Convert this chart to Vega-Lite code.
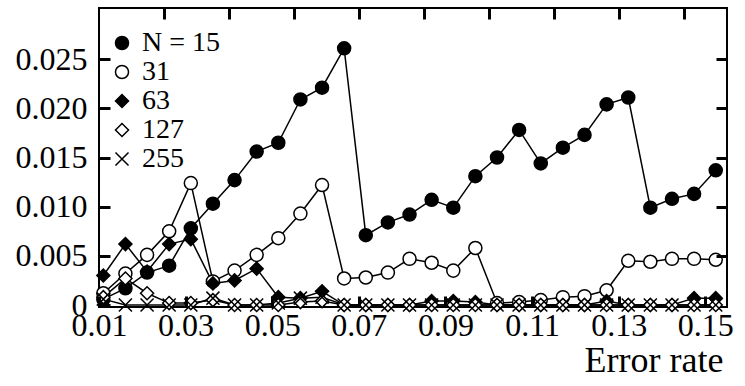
{
  "$schema": "https://vega.github.io/schema/vega-lite/v6.json",
  "autosize": "none",
  "width": 628,
  "height": 299,
  "padding": {"left": 99, "top": 8, "right": 18, "bottom": 79},
  "background": "white",
  "config": {
    "view": {"stroke": "black", "strokeWidth": 2},
    "font": "Liberation Serif, Times New Roman, DejaVu Serif, serif",
    "axis": {
      "labelFont": "Liberation Serif, Times New Roman, DejaVu Serif, serif",
      "labelColor": "black",
      "titleFont": "Liberation Serif, Times New Roman, DejaVu Serif, serif",
      "titleColor": "black",
      "titleFontWeight": "normal",
      "domain": false,
      "labelFlush": false,
      "labelOverlap": false
    }
  },
  "resolve": {"axis": {"x": "independent", "y": "independent"}},
  "data": {"values": [
    {"N":"15","x":0.0110,"y":0.0006},{"N":"15","x":0.0161,"y":0.0017},{"N":"15","x":0.0211,"y":0.0033},{"N":"15","x":0.0262,"y":0.0040},{"N":"15","x":0.0312,"y":0.0078},{"N":"15","x":0.0363,"y":0.0103},{"N":"15","x":0.0413,"y":0.0127},{"N":"15","x":0.0464,"y":0.0156},{"N":"15","x":0.0514,"y":0.0165},{"N":"15","x":0.0565,"y":0.0209},{"N":"15","x":0.0615,"y":0.0221},{"N":"15","x":0.0666,"y":0.0261},{"N":"15","x":0.0716,"y":0.0071},{"N":"15","x":0.0767,"y":0.0084},{"N":"15","x":0.0817,"y":0.0092},{"N":"15","x":0.0868,"y":0.0107},{"N":"15","x":0.0918,"y":0.0099},{"N":"15","x":0.0969,"y":0.0131},{"N":"15","x":0.1019,"y":0.0150},{"N":"15","x":0.1070,"y":0.0178},{"N":"15","x":0.1120,"y":0.0144},{"N":"15","x":0.1171,"y":0.0160},{"N":"15","x":0.1221,"y":0.0173},{"N":"15","x":0.1272,"y":0.0204},{"N":"15","x":0.1322,"y":0.0211},{"N":"15","x":0.1373,"y":0.0099},{"N":"15","x":0.1423,"y":0.0108},{"N":"15","x":0.1474,"y":0.0113},{"N":"15","x":0.1524,"y":0.0137},
    {"N":"31","x":0.0110,"y":0.0012},{"N":"31","x":0.0161,"y":0.0032},{"N":"31","x":0.0211,"y":0.0051},{"N":"31","x":0.0262,"y":0.0075},{"N":"31","x":0.0312,"y":0.0124},{"N":"31","x":0.0363,"y":0.0024},{"N":"31","x":0.0413,"y":0.0035},{"N":"31","x":0.0464,"y":0.0051},{"N":"31","x":0.0514,"y":0.0068},{"N":"31","x":0.0565,"y":0.0093},{"N":"31","x":0.0615,"y":0.0122},{"N":"31","x":0.0666,"y":0.0027},{"N":"31","x":0.0716,"y":0.0028},{"N":"31","x":0.0767,"y":0.0033},{"N":"31","x":0.0817,"y":0.0047},{"N":"31","x":0.0868,"y":0.0043},{"N":"31","x":0.0918,"y":0.0035},{"N":"31","x":0.0969,"y":0.0058},{"N":"31","x":0.1019,"y":0.0002},{"N":"31","x":0.1070,"y":0.0003},{"N":"31","x":0.1120,"y":0.0005},{"N":"31","x":0.1171,"y":0.0008},{"N":"31","x":0.1221,"y":0.0009},{"N":"31","x":0.1272,"y":0.0015},{"N":"31","x":0.1322,"y":0.0045},{"N":"31","x":0.1373,"y":0.0044},{"N":"31","x":0.1423,"y":0.0047},{"N":"31","x":0.1474,"y":0.0047},{"N":"31","x":0.1524,"y":0.0046},
    {"N":"63","x":0.0110,"y":0.0030},{"N":"63","x":0.0161,"y":0.0062},{"N":"63","x":0.0211,"y":0.0034},{"N":"63","x":0.0262,"y":0.0062},{"N":"63","x":0.0312,"y":0.0067},{"N":"63","x":0.0363,"y":0.0022},{"N":"63","x":0.0413,"y":0.0025},{"N":"63","x":0.0464,"y":0.0037},{"N":"63","x":0.0514,"y":0.0008},{"N":"63","x":0.0565,"y":0.0007},{"N":"63","x":0.0615,"y":0.0014},{"N":"63","x":0.0666,"y":0},{"N":"63","x":0.0716,"y":0},{"N":"63","x":0.0767,"y":0},{"N":"63","x":0.0817,"y":0},{"N":"63","x":0.0868,"y":0.0004},{"N":"63","x":0.0918,"y":0.0004},{"N":"63","x":0.0969,"y":0.0003},{"N":"63","x":0.1019,"y":0},{"N":"63","x":0.1070,"y":0},{"N":"63","x":0.1120,"y":0},{"N":"63","x":0.1171,"y":0},{"N":"63","x":0.1221,"y":0},{"N":"63","x":0.1272,"y":0.0004},{"N":"63","x":0.1322,"y":0},{"N":"63","x":0.1373,"y":0},{"N":"63","x":0.1423,"y":0},{"N":"63","x":0.1474,"y":0.0007},{"N":"63","x":0.1524,"y":0.0007},
    {"N":"127","x":0.0110,"y":0.0008},{"N":"127","x":0.0161,"y":0.0027},{"N":"127","x":0.0211,"y":0.0012},{"N":"127","x":0.0262,"y":0.0002},{"N":"127","x":0.0312,"y":0.0002},{"N":"127","x":0.0363,"y":0.0005},{"N":"127","x":0.0413,"y":0},{"N":"127","x":0.0464,"y":0},{"N":"127","x":0.0514,"y":0},{"N":"127","x":0.0565,"y":0.0003},{"N":"127","x":0.0615,"y":0.0004},{"N":"127","x":0.0666,"y":0},{"N":"127","x":0.0716,"y":0},{"N":"127","x":0.0767,"y":0},{"N":"127","x":0.0817,"y":0},{"N":"127","x":0.0868,"y":0},{"N":"127","x":0.0918,"y":0},{"N":"127","x":0.0969,"y":0},{"N":"127","x":0.1019,"y":0},{"N":"127","x":0.1070,"y":0},{"N":"127","x":0.1120,"y":0},{"N":"127","x":0.1171,"y":0},{"N":"127","x":0.1221,"y":0},{"N":"127","x":0.1272,"y":0},{"N":"127","x":0.1322,"y":0},{"N":"127","x":0.1373,"y":0},{"N":"127","x":0.1423,"y":0},{"N":"127","x":0.1474,"y":0},{"N":"127","x":0.1524,"y":0},
    {"N":"255","x":0.0110,"y":0.0006},{"N":"255","x":0.0161,"y":0},{"N":"255","x":0.0211,"y":0},{"N":"255","x":0.0262,"y":0},{"N":"255","x":0.0312,"y":0},{"N":"255","x":0.0363,"y":0.0007},{"N":"255","x":0.0413,"y":0},{"N":"255","x":0.0464,"y":0},{"N":"255","x":0.0514,"y":0.0002},{"N":"255","x":0.0565,"y":0.0007},{"N":"255","x":0.0615,"y":0.0008},{"N":"255","x":0.0666,"y":0},{"N":"255","x":0.0716,"y":0},{"N":"255","x":0.0767,"y":0},{"N":"255","x":0.0817,"y":0},{"N":"255","x":0.0868,"y":0},{"N":"255","x":0.0918,"y":0},{"N":"255","x":0.0969,"y":0},{"N":"255","x":0.1019,"y":0},{"N":"255","x":0.1070,"y":0},{"N":"255","x":0.1120,"y":0},{"N":"255","x":0.1171,"y":0},{"N":"255","x":0.1221,"y":0},{"N":"255","x":0.1272,"y":0},{"N":"255","x":0.1322,"y":0},{"N":"255","x":0.1373,"y":0},{"N":"255","x":0.1423,"y":0},{"N":"255","x":0.1474,"y":0},{"N":"255","x":0.1524,"y":0}
  ]},
  "layer": [
    {
      "mark": {"type": "line", "color": "black", "strokeWidth": 1.5},
      "encoding": {
        "x": {"field": "x", "type": "quantitative", "scale": {"domain": [0.01, 0.155], "nice": false, "zero": false},
          "axis": {"orient": "bottom", "zindex": 1, "values": [0.01, 0.03, 0.05, 0.07, 0.09, 0.11, 0.13, 0.15], "format": ".2f", "labelFontSize": 32, "labelPadding": 14, "grid": false, "ticks": true, "tickColor": "#000000", "tickOpacity": 1, "tickSize": -11, "tickWidth": 3, "title": "Error rate", "titleFontSize": 36, "titleX": 624, "titleAlign": "right", "titlePadding": 2}},
        "y": {"field": "y", "type": "quantitative", "scale": {"domain": [-0.0002, 0.0302], "nice": false, "zero": false},
          "axis": {"orient": "left", "zindex": 1, "values": [0, 0.005, 0.01, 0.015, 0.02, 0.025], "labelExpr": "datum.value == 0 ? '0' : format(datum.value, '.3f')", "labelFontSize": 32, "labelPadding": 23, "grid": false, "ticks": true, "tickColor": "#000000", "tickOpacity": 1, "tickSize": -11, "tickWidth": 3, "title": null}},
        "detail": {"field": "N", "type": "nominal"}
      }
    },
    {
      "mark": {"type": "point", "stroke": "black", "strokeWidth": 1.5, "opacity": 1},
      "encoding": {
        "x": {"field": "x", "type": "quantitative",
          "axis": {"orient": "top", "zindex": 1, "values": [0.025, 0.04, 0.055, 0.07, 0.085, 0.1, 0.115, 0.13, 0.145], "labels": false, "grid": false, "ticks": true, "tickColor": "#000000", "tickOpacity": 1, "tickSize": -11, "tickWidth": 3, "title": null}},
        "y": {"field": "y", "type": "quantitative",
          "axis": {"orient": "right", "zindex": 1, "values": [0.005, 0.01, 0.015, 0.02, 0.025], "labels": false, "grid": false, "ticks": true, "tickColor": "#000000", "tickOpacity": 1, "tickSize": -11, "tickWidth": 3, "title": null}},
        "shape": {"field": "N", "type": "nominal", "scale": {"domain": ["15", "31", "63", "127", "255"], "range": ["circle", "circle", "diamond", "diamond", "M-1,-1L1,1M1,-1L-1,1"]},
          "legend": {"orient": "none", "legendX": 9, "legendY": 21, "title": null, "padding": 0, "labelFont": "Liberation Serif, Times New Roman, DejaVu Serif, serif", "labelFontSize": 28, "labelColor": "black", "labelOffset": 6, "rowPadding": 1, "symbolStrokeColor": "black", "symbolStrokeWidth": 1.5, "symbolOpacity": 1, "labelExpr": "datum.label == '15' ? 'N = 15' : datum.label"}},
        "fill": {"field": "N", "type": "nominal", "scale": {"domain": ["15", "31", "63", "127", "255"], "range": ["black", "white", "black", "white", "transparent"]}},
        "size": {"field": "N", "type": "nominal", "scale": {"domain": ["15", "31", "63", "127", "255"], "range": [170, 170, 230, 230, 170]}}
      }
    }
  ]
}
